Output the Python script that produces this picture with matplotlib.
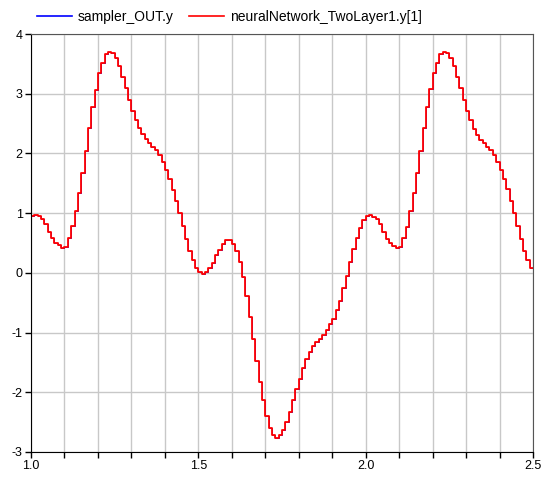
import numpy as np
import matplotlib
matplotlib.use("Agg")
import matplotlib.pyplot as plt

plt.rcParams["font.family"] = ["Liberation Sans", "DejaVu Sans"]
plt.rcParams["axes.unicode_minus"] = False

# sample instants (step 0.01 s) and the held outputs
time = np.round(np.arange(1.0, 2.505, 0.01), 2)

nn_out = [
    0.95, 0.97, 0.95, 0.90, 0.82, 0.68, 0.58, 0.50, 0.46, 0.41,
    0.44, 0.58, 0.78, 1.03, 1.34, 1.67, 2.04, 2.42, 2.77, 3.07,
    3.34, 3.52, 3.66, 3.70, 3.69, 3.60, 3.46, 3.28, 3.10, 2.89,
    2.71, 2.56, 2.42, 2.32, 2.24, 2.17, 2.10, 2.05, 1.97, 1.85,
    1.72, 1.57, 1.39, 1.21, 1.00, 0.78, 0.57, 0.37, 0.21, 0.08,
    0.01, -0.02, 0.01, 0.08, 0.16, 0.30, 0.39, 0.49, 0.55, 0.55,
    0.49, 0.37, 0.18, -0.07, -0.38, -0.74, -1.10, -1.48, -1.82, -2.13,
    -2.40, -2.59, -2.72, -2.77, -2.72, -2.63, -2.49, -2.33, -2.13, -1.95,
    -1.77, -1.59, -1.45, -1.33, -1.23, -1.16, -1.10, -1.04, -0.96, -0.86,
    -0.77, -0.63, -0.47, -0.26, -0.05, 0.18, 0.40, 0.59, 0.75, 0.89,
    0.95, 0.97, 0.94, 0.90, 0.82, 0.69, 0.57, 0.50, 0.45, 0.41,
    0.43, 0.58, 0.77, 1.03, 1.34, 1.68, 2.04, 2.42, 2.77, 3.08,
    3.34, 3.52, 3.66, 3.70, 3.69, 3.60, 3.46, 3.28, 3.10, 2.89,
    2.71, 2.56, 2.41, 2.31, 2.23, 2.17, 2.10, 2.05, 1.97, 1.85,
    1.72, 1.57, 1.40, 1.21, 1.00, 0.78, 0.57, 0.37, 0.21, 0.08,
    0.08,
]
sampler_out = list(nn_out)

x_labels = {1.0: "1.0", 1.5: "1.5", 2.0: "2.0", 2.5: "2.5"}
y_ticks = [-3, -2, -1, 0, 1, 2, 3, 4]

fig = plt.figure(figsize=(5.47, 4.79), dpi=100)
ax = fig.add_axes([0.0567, 0.0564, 0.9177, 0.8726])

# sampler output sits exactly under the network output, so only red shows
ax.plot(time, sampler_out, color="#0000ff", lw=0.6, drawstyle="steps-post",
        label="sampler_OUT.y")
ax.plot(time, nn_out, color="#ff0000", lw=1.3, drawstyle="steps-post",
        label="neuralNetwork_TwoLayer1.y[1]")

ax.set_xlim(1.0, 2.5)
ax.set_ylim(-3, 4)

xt = np.round(np.arange(1.0, 2.505, 0.1), 2)
ax.set_xticks(xt)
ax.set_xticklabels([x_labels.get(v, "") for v in xt])
ax.set_yticks(y_ticks)
ax.set_yticklabels([str(v) for v in y_ticks])

ax.grid(True, color="#c8c8c8", lw=1.0)
ax.set_axisbelow(True)
ax.tick_params(direction="out", length=4, width=1, labelsize=9, pad=2,
               colors="black")
for side in ["top", "right"]:
    ax.spines[side].set_color("#555555")
for side in ["left", "bottom"]:
    ax.spines[side].set_color("black")

leg = fig.legend(loc="upper left", bbox_to_anchor=(0.045, 1.005), ncol=2,
                 frameon=False, fontsize=10, handlelength=2.5,
                 handletextpad=0.45, columnspacing=1.1)
for line in leg.get_lines():
    line.set_linewidth(1.2)

fig.savefig("out.png", dpi=100)
